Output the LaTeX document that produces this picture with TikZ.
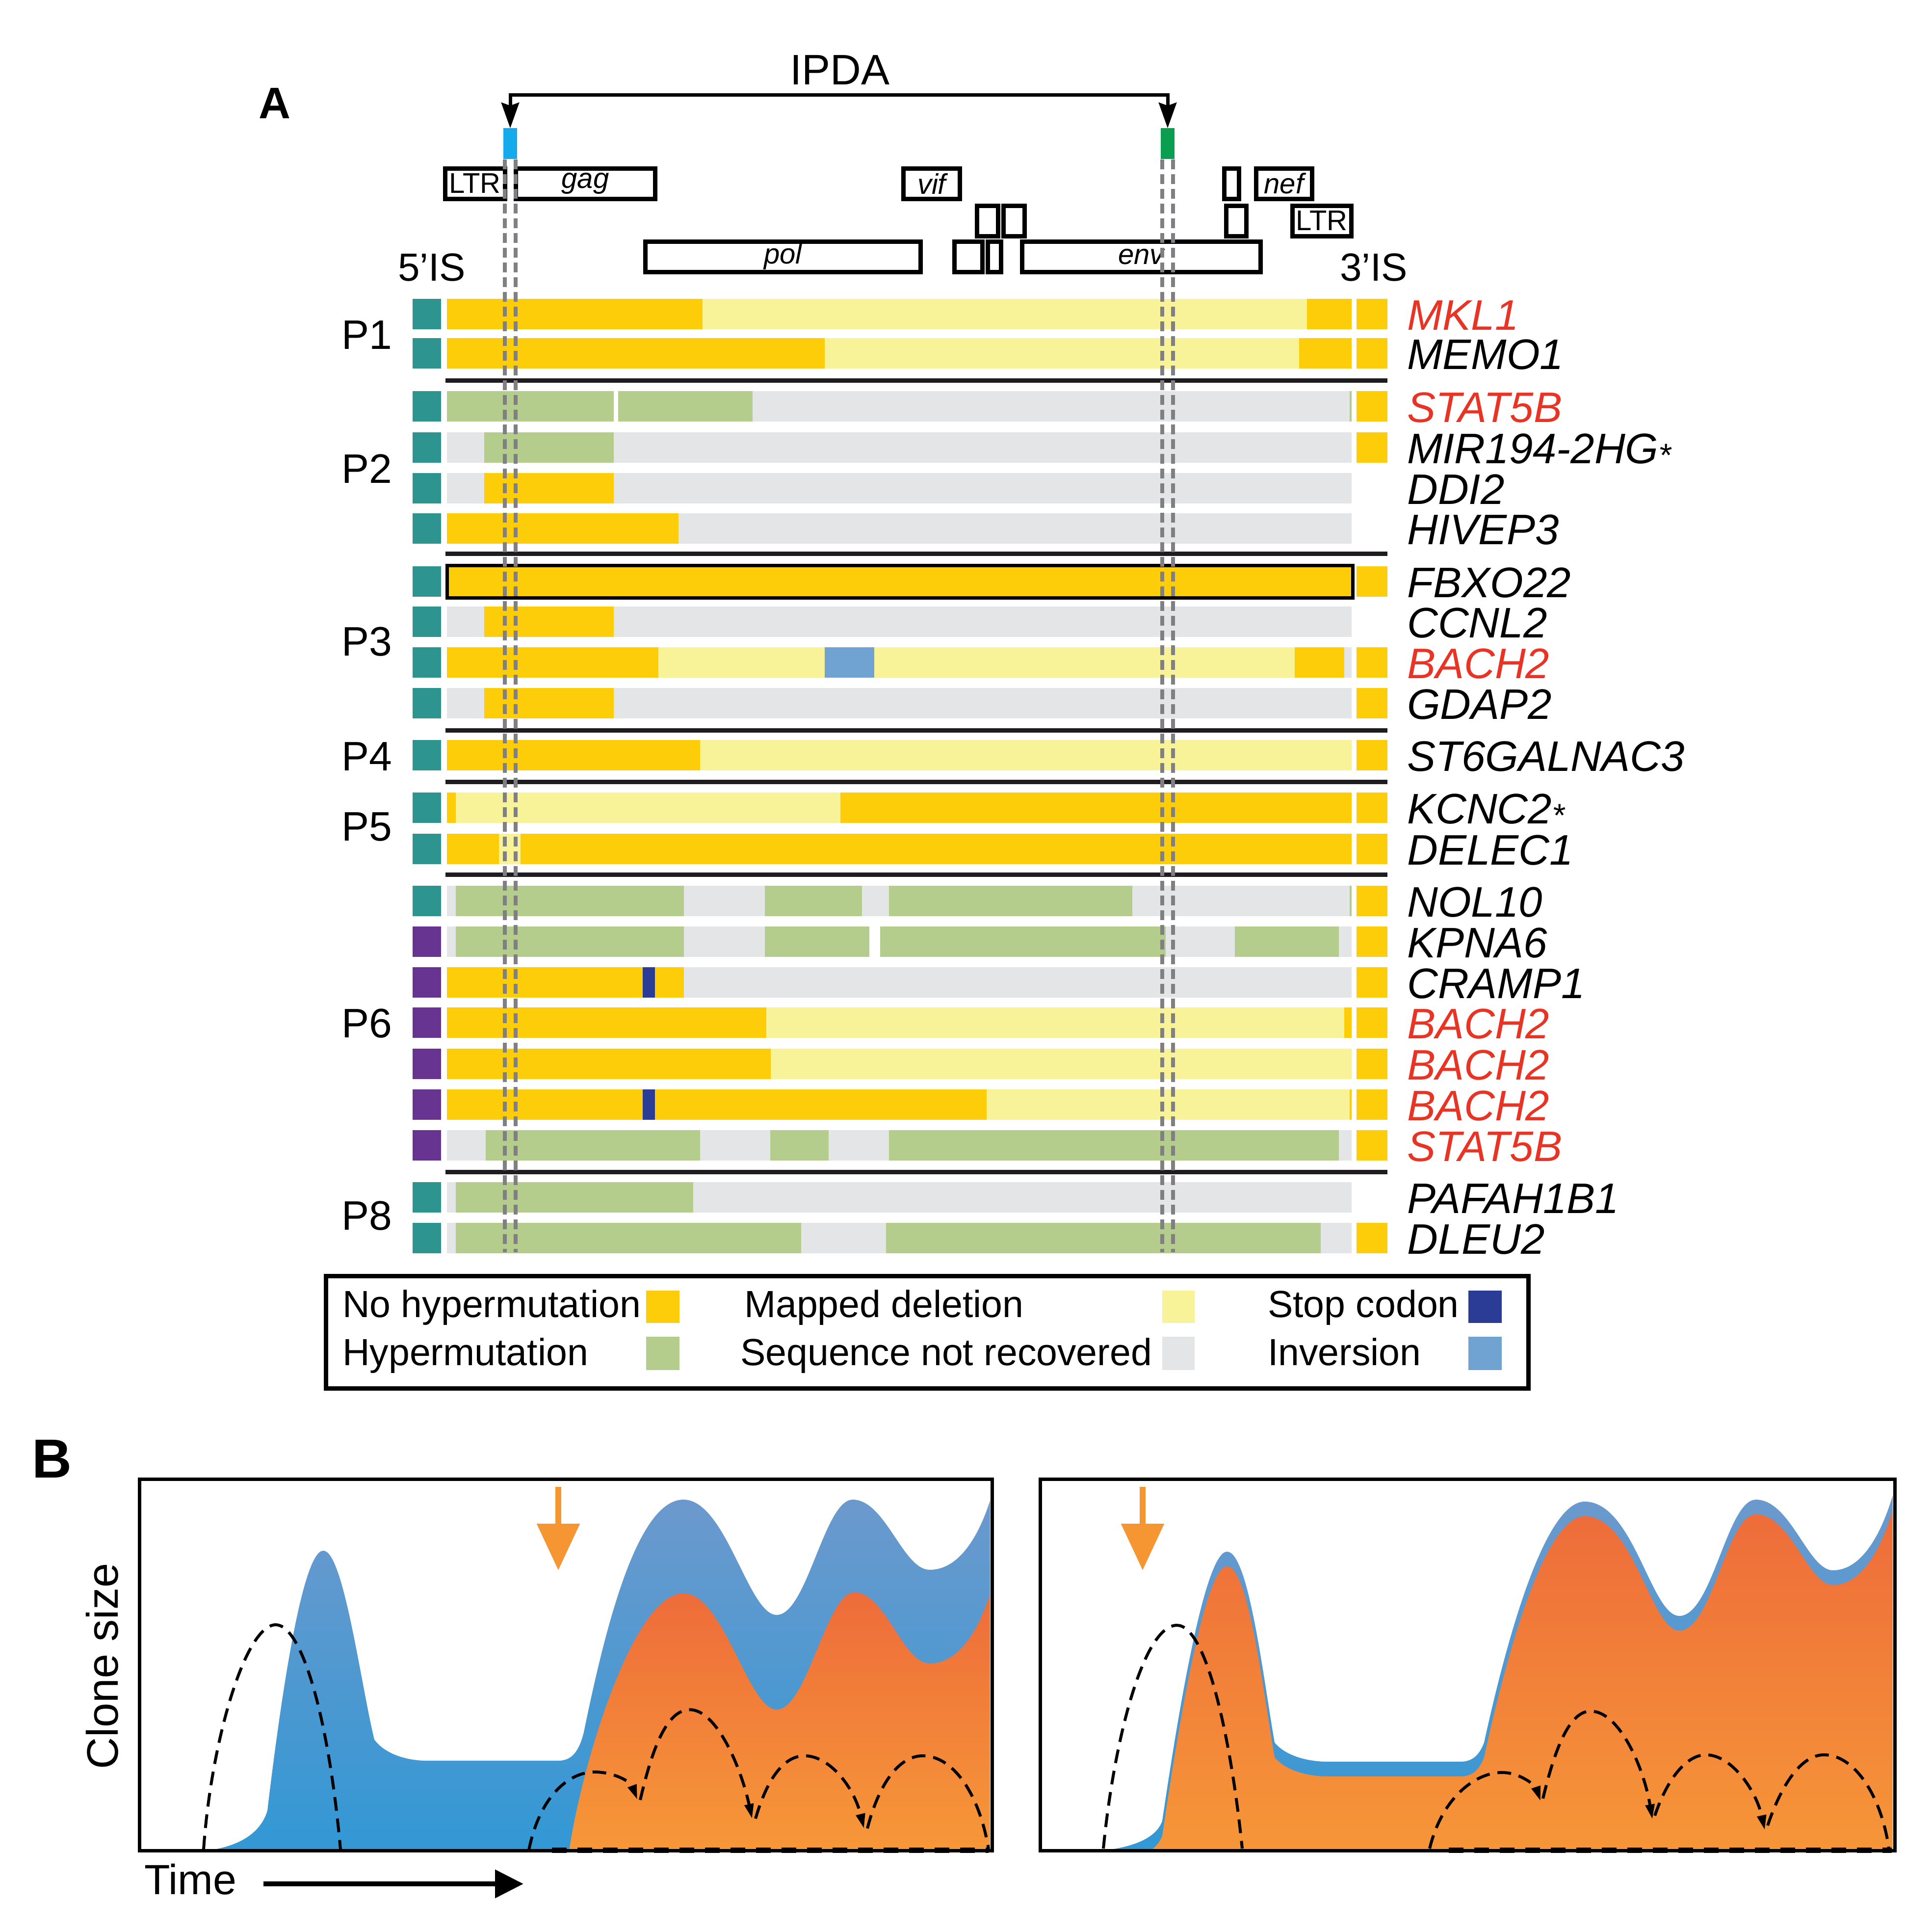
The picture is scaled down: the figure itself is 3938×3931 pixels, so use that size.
\documentclass[tikz,border=0pt]{standalone}
\usepackage{fontspec}
\setmainfont{Liberation Sans}
\usetikzlibrary{arrows.meta}
\definecolor{cY}{RGB}{253,205,10}
\definecolor{cL}{RGB}{248,242,152}
\definecolor{cG}{RGB}{180,204,140}
\definecolor{cR}{RGB}{228,229,231}
\definecolor{cB}{RGB}{112,162,210}
\definecolor{cS}{RGB}{42,60,150}
\definecolor{cTeal}{RGB}{46,148,144}
\definecolor{cPurp}{RGB}{104,52,146}
\definecolor{cRed}{RGB}{232,52,36}
\definecolor{cSep}{RGB}{30,28,30}
\definecolor{cDash}{RGB}{128,128,132}
\definecolor{cIpdaB}{RGB}{20,170,235}
\definecolor{cIpdaG}{RGB}{10,158,80}
\definecolor{cBlueTop}{RGB}{108,153,205}
\definecolor{cBlueBot}{RGB}{50,152,212}
\definecolor{cOrTop}{RGB}{238,108,58}
\definecolor{cOrBot}{RGB}{246,152,56}
\definecolor{cOArrow}{RGB}{246,150,50}
\newcommand\rowbar[2]{\foreach \xa/\xb/\xc in {#2}{\fill[fill=\xc] (\xa,#1-31) rectangle (\xb,#1+31);}}
\newcommand\generow[5]{%
  \fill[fill=#2] (841,#1-31) rectangle (899,#1+31);
  \node[gname, text=#3] (#5) at (2868,#1+32) {#4};}
\newcommand\lowstar{{\fontsize{66}{66}\selectfont\raisebox{-0.1em}[0pt][0pt]{*}}}
\tikzset{
  gbox/.style={draw=black, line width=9pt, inner sep=0pt, font=\fontsize{58}{62}\selectfont},
  gboxi/.style={gbox, font=\fontsize{58}{62}\selectfont\itshape},
  gname/.style={anchor=base west, inner sep=0pt, font=\fontsize{87}{90}\selectfont\itshape},
  plab/.style={inner sep=0pt, font=\fontsize{84}{90}\selectfont},
  sepline/.style={draw=cSep, line width=9pt},
  vdash/.style={draw=cDash, line width=8pt, dash pattern=on 20pt off 10pt},
  legtext/.style={anchor=base west, inner sep=0pt, font=\fontsize{77}{80}\selectfont},
  plotbox/.style={draw=black, line width=7pt, inner sep=0pt},
  dcurve/.style={draw=black, line width=6pt, dash pattern=on 28pt off 16pt},
  dtip/.style={dcurve, -{Triangle[length=30pt,width=18pt]}},
  oarrow/.style={draw=cOArrow, line width=12pt, -{Triangle[length=95pt,width=85pt]}},
}
\begin{document}
\begin{tikzpicture}[x=1pt,y=-1pt]
\useasboundingbox (0,0) rectangle (3938,3931);
% ---------- Panel A header ----------
\node[font=\fontsize{90}{96}\selectfont\bfseries, inner sep=0pt] (labA) at (560,211) {A};
\node[font=\fontsize{87}{92}\selectfont, inner sep=0pt] (ipda) at (1712,143) {IPDA};
\node[fill=cIpdaB, minimum width=28pt, minimum height=63pt, inner sep=0pt] (ipdaL) at (1040,293) {};
\node[fill=cIpdaG, minimum width=28pt, minimum height=63pt, inner sep=0pt] (ipdaR) at (2380,293) {};
\coordinate (bk) at (1700,194);
\draw[line width=7pt, line join=miter, {Stealth[length=52pt,width=36pt,inset=6pt]}-{Stealth[length=52pt,width=36pt,inset=6pt]}]
  (ipdaL.north) -- (ipdaL.north |- bk) -- (ipdaR.north |- bk) -- (ipdaR.north);
% gene structure boxes
\node[gbox, minimum width=122pt, minimum height=62pt] (ltrA) at (968,374) {LTR};
\node[gboxi, minimum width=284pt, minimum height=62pt] (gag) at (1193,374) {gag};
\node[gboxi, minimum width=115pt, minimum height=62pt] (vif) at (1899,374) {vif};
\node[gbox, minimum width=30pt, minimum height=62pt] (sm1) at (2510,374) {};
\node[gboxi, minimum width=114pt, minimum height=62pt] (nef) at (2617,374) {nef};
\node[gbox, minimum width=43pt, minimum height=62pt] (sm2) at (2013,450) {};
\node[gbox, minimum width=43pt, minimum height=62pt] (sm3) at (2067,450) {};
\node[gbox, minimum width=41pt, minimum height=62pt] (sm4) at (2520,450) {};
\node[gbox, minimum width=120pt, minimum height=62pt] (ltrB) at (2694,450) {LTR};
\node[gboxi, minimum width=561pt, minimum height=62pt] (pol) at (1596,523) {pol};
\node[gbox, minimum width=57pt, minimum height=62pt] (sm5) at (1974,523) {};
\node[gbox, minimum width=27pt, minimum height=62pt] (sm6) at (2027,523) {};
\node[gboxi, minimum width=486pt, minimum height=62pt] (env) at (2326,523) {env};
\node[font=\fontsize{80}{84}\selectfont, inner sep=0pt] (is5) at (880,545) {5’IS};
\node[font=\fontsize{80}{84}\selectfont, inner sep=0pt] (is3) at (2800,545) {3’IS};
% ---------- rows ----------
\rowbar{640}{911/1432/cY, 1432/2664/cL, 2664/2755/cY, 2765/2828/cY}
\generow{640}{cTeal}{cRed}{MKL1}{g1}
\rowbar{720}{911/1681/cY, 1681/2648/cL, 2648/2755/cY, 2765/2828/cY}
\generow{720}{cTeal}{black}{MEMO1}{g2}
\rowbar{828}{911/1251/cG, 1260/1534/cG, 1534/2751/cR, 2751/2755/cG, 2765/2828/cY}
\generow{828}{cTeal}{cRed}{STAT5B}{g3}
\rowbar{912}{911/987/cR, 987/1251/cG, 1251/2755/cR, 2765/2828/cY}
\generow{912}{cTeal}{black}{MIR194-2HG\lowstar}{g4}
\rowbar{995}{911/987/cR, 987/1251/cY, 1251/2755/cR}
\generow{995}{cTeal}{black}{DDI2}{g5}
\rowbar{1077}{911/1383/cY, 1383/2755/cR}
\generow{1077}{cTeal}{black}{HIVEP3}{g6}
\rowbar{1185}{911/2755/cY, 2765/2828/cY}
\generow{1185}{cTeal}{black}{FBXO22}{g7}
\rowbar{1267}{911/987/cR, 987/1251/cY, 1251/2755/cR}
\generow{1267}{cTeal}{black}{CCNL2}{g8}
\rowbar{1350}{911/1342/cY, 1342/1681/cL, 1681/1782/cB, 1782/2639/cL, 2639/2740/cY, 2740/2755/cR, 2765/2828/cY}
\generow{1350}{cTeal}{cRed}{BACH2}{g9}
\rowbar{1433}{911/987/cR, 987/1251/cY, 1251/2755/cR, 2765/2828/cY}
\generow{1433}{cTeal}{black}{GDAP2}{g10}
\rowbar{1539}{911/1427/cY, 1427/2755/cL, 2765/2828/cY}
\generow{1539}{cTeal}{black}{ST6GALNAC3}{g11}
\rowbar{1646}{911/929/cY, 929/1713/cL, 1713/2755/cY, 2765/2828/cY}
\generow{1646}{cTeal}{black}{KCNC2\lowstar}{g12}
\rowbar{1730}{911/1017/cY, 1017/1061/cL, 1061/2755/cY, 2765/2828/cY}
\generow{1730}{cTeal}{black}{DELEC1}{g13}
\rowbar{1836}{911/929/cR, 929/1394/cG, 1394/1559/cR, 1559/1757/cG, 1757/1812/cR, 1812/2308/cG, 2308/2751/cR, 2751/2755/cG, 2765/2828/cY}
\generow{1836}{cTeal}{black}{NOL10}{g14}
\rowbar{1919}{911/929/cR, 929/1394/cG, 1394/1559/cR, 1559/1772/cG, 1794/2376/cG, 2376/2517/cR, 2517/2729/cG, 2729/2755/cR, 2765/2828/cY}
\generow{1919}{cPurp}{black}{KPNA6}{g15}
\rowbar{2002}{911/1394/cY, 1310/1335/cS, 1394/2755/cR, 2765/2828/cY}
\generow{2002}{cPurp}{black}{CRAMP1}{g16}
\rowbar{2084}{911/1562/cY, 1562/2740/cL, 2740/2755/cY, 2765/2828/cY}
\generow{2084}{cPurp}{cRed}{BACH2}{g17}
\rowbar{2168}{911/1571/cY, 1571/2755/cL, 2765/2828/cY}
\generow{2168}{cPurp}{cRed}{BACH2}{g18}
\rowbar{2251}{911/2011/cY, 1310/1335/cS, 2011/2751/cL, 2751/2755/cY, 2765/2828/cY}
\generow{2251}{cPurp}{cRed}{BACH2}{g19}
\rowbar{2334}{911/990/cR, 990/1427/cG, 1427/1570/cR, 1570/1689/cG, 1689/1812/cR, 1812/2729/cG, 2729/2755/cR, 2765/2828/cY}
\generow{2334}{cPurp}{cRed}{STAT5B}{g20}
\rowbar{2440}{911/929/cR, 929/1413/cG, 1413/2755/cR}
\generow{2440}{cTeal}{black}{PAFAH1B1}{g21}
\rowbar{2523}{911/929/cR, 929/1633/cG, 1633/1806/cR, 1806/2692/cG, 2692/2755/cR, 2765/2828/cY}
\generow{2523}{cTeal}{black}{DLEU2}{g22}
\draw[line width=7pt] (911,1152) rectangle (2757,1218);
% separators
\foreach \yy in {775,1128,1488,1593,1782,2388}{\draw[sepline] (908,\yy) -- (2828,\yy);}
% dashed guide lines
\coordinate (vend) at (0,2552);
\draw[vdash] ([xshift=-11pt]ipdaL.south) -- ([xshift=-11pt]ipdaL.south |- vend);
\draw[vdash] ([xshift=11pt]ipdaL.south) -- ([xshift=11pt]ipdaL.south |- vend);
\draw[vdash] ([xshift=-11pt]ipdaR.south) -- ([xshift=-11pt]ipdaR.south |- vend);
\draw[vdash] ([xshift=11pt]ipdaR.south) -- ([xshift=11pt]ipdaR.south |- vend);
% patient labels
\node[plab] (p1) at (748,683) {P1};
\node[plab] (p2) at (748,955) {P2};
\node[plab] (p3) at (748,1308) {P3};
\node[plab] (p4) at (748,1542) {P4};
\node[plab] (p5) at (748,1685) {P5};
\node[plab] (p6) at (748,2086) {P6};
\node[plab] (p8) at (748,2478) {P8};
% legend
\node[draw=black, line width=9pt, minimum width=2451pt, minimum height=229pt, inner sep=0pt] (legend) at (1890,2715) {};
\node[legtext] (l1) at (698,2684) {No hypermutation};
\node[legtext] (l2) at (698,2782) {Hypermutation};
\node[legtext] (l3) at (1517,2684) {Mapped deletion};
\node[legtext] (l4) at (1509,2782) {Sequence not recovered};
\node[legtext] (l5) at (2584,2684) {Stop codon};
\node[legtext] (l6) at (2584,2782) {Inversion};
\fill[cY] (1317,2630) rectangle (1385,2696);
\fill[cG] (1317,2724) rectangle (1385,2792);
\fill[cL] (2369,2630) rectangle (2435,2696);
\fill[cR] (2369,2724) rectangle (2435,2792);
\fill[cS] (2993,2630) rectangle (3061,2696);
\fill[cB] (2993,2724) rectangle (3061,2792);
% ---------- Panel B ----------
\node[font=\fontsize{112}{118}\selectfont\bfseries, inner sep=0pt] (labB) at (106,2973) {B};
\node[font=\fontsize{90}{96}\selectfont, rotate=90, inner sep=0pt] (clone) at (208,3395) {Clone size};
\node[anchor=base west, font=\fontsize{86}{90}\selectfont, inner sep=0pt] (time) at (294,3860) {Time};
\coordinate (ts) at (537,3839);
\coordinate (te) at (1067,3839);
\draw[line width=10pt, -{Triangle[length=58pt,width=56pt]}] (ts) -- (te);
% left plot
\shade[top color=cBlueTop, bottom color=cBlueBot]
 (415,3772) .. controls (480,3765) and (530,3740) .. (545,3690)
 .. controls (570,3480) and (615,3160) .. (659,3160)
 .. controls (700,3160) and (735,3430) .. (763,3545)
 .. controls (785,3575) and (830,3588) .. (870,3588)
 -- (1138,3588)
 .. controls (1165,3588) and (1180,3570) .. (1190,3530)
 .. controls (1235,3310) and (1300,3056) .. (1393,3056)
 .. controls (1480,3056) and (1525,3291) .. (1583,3291)
 .. controls (1645,3291) and (1680,3056) .. (1738,3056)
 .. controls (1805,3056) and (1840,3199) .. (1895,3199)
 .. controls (1955,3199) and (1995,3130) .. (2018,3058)
 -- (2018,3772) -- cycle;
\shade[top color=cOrTop, bottom color=cOrBot]
 (1160,3772) .. controls (1185,3600) and (1290,3247) .. (1393,3247)
 .. controls (1475,3247) and (1525,3484) .. (1583,3484)
 .. controls (1645,3484) and (1685,3245) .. (1741,3245)
 .. controls (1805,3245) and (1840,3390) .. (1895,3390)
 .. controls (1955,3390) and (1995,3320) .. (2018,3249)
 -- (2018,3772) -- cycle;
\coordinate (oa1) at (1138,3030);
\coordinate (ob1) at (1138,3200);
\draw[oarrow] (oa1) -- (ob1);
\draw[dcurve] (415,3769) .. controls (430,3550) and (500,3311) .. (562,3311) .. controls (615,3311) and (670,3500) .. (694,3769);
\draw[dtip] (1078,3770) .. controls (1100,3660) and (1160,3611) .. (1212,3611) .. controls (1250,3611) and (1285,3630) .. (1299,3667);
\draw[dtip] (1305,3668) .. controls (1330,3560) and (1360,3484) .. (1406,3484) .. controls (1460,3484) and (1510,3600) .. (1533,3706);
\draw[dtip] (1540,3706) .. controls (1565,3620) and (1600,3578) .. (1640,3578) .. controls (1690,3578) and (1740,3640) .. (1761,3726);
\draw[dcurve] (1768,3726) .. controls (1790,3640) and (1830,3578) .. (1881,3578) .. controls (1940,3578) and (1995,3650) .. (2015,3768);
\draw[line width=11pt, dash pattern=on 30pt off 22pt] (1125,3770) -- (2015,3770);
\node[plotbox, minimum width=1738pt, minimum height=757pt] (plotL) at (1153,3393) {};
% right plot
\begin{scope}
\clip (2124,3019) rectangle (3858,3768);
\shade[top color=cBlueTop, bottom color=cBlueBot]
 (2240,3772) .. controls (2300,3766) and (2355,3750) .. (2369,3711)
 .. controls (2400,3500) and (2455,3162) .. (2501,3162)
 .. controls (2545,3162) and (2575,3420) .. (2598,3551)
 .. controls (2620,3578) and (2665,3590) .. (2706,3590) -- (2977,3590)
 .. controls (3000,3590) and (3015,3578) .. (3025,3551)
 .. controls (3080,3300) and (3155,3060) .. (3230,3060)
 .. controls (3330,3060) and (3365,3293) .. (3423,3293)
 .. controls (3490,3293) and (3520,3056) .. (3579,3056)
 .. controls (3650,3056) and (3685,3200) .. (3736,3200)
 .. controls (3795,3200) and (3835,3125) .. (3858,3047)
 -- (3858,3772) -- cycle;
\shade[top color=cOrTop, bottom color=cOrBot, shift={(0,30)}]
 (2240,3772) .. controls (2300,3766) and (2355,3750) .. (2369,3711)
 .. controls (2400,3500) and (2455,3162) .. (2501,3162)
 .. controls (2545,3162) and (2575,3420) .. (2598,3551)
 .. controls (2620,3578) and (2665,3590) .. (2706,3590) -- (2977,3590)
 .. controls (3000,3590) and (3015,3578) .. (3025,3551)
 .. controls (3080,3300) and (3155,3060) .. (3230,3060)
 .. controls (3330,3060) and (3365,3293) .. (3423,3293)
 .. controls (3490,3293) and (3520,3056) .. (3579,3056)
 .. controls (3650,3056) and (3685,3200) .. (3736,3200)
 .. controls (3795,3200) and (3835,3125) .. (3858,3047)
 -- (3858,3772) -- cycle;
\end{scope}
\coordinate (oa2) at (2329,3030);
\coordinate (ob2) at (2329,3200);
\draw[oarrow] (oa2) -- (ob2);
\draw[dcurve] (2249,3767) .. controls (2270,3550) and (2330,3312) .. (2399,3312) .. controls (2460,3312) and (2510,3550) .. (2532,3767);
\draw[dtip] (2914,3767) .. controls (2940,3660) and (3010,3612) .. (3061,3612) .. controls (3100,3612) and (3130,3640) .. (3140,3670);
\draw[dtip] (3145,3665) .. controls (3170,3560) and (3200,3487) .. (3242,3487) .. controls (3300,3487) and (3350,3600) .. (3368,3707);
\draw[dtip] (3373,3700) .. controls (3400,3620) and (3440,3576) .. (3477,3576) .. controls (3530,3576) and (3580,3650) .. (3597,3729);
\draw[dcurve] (3603,3720) .. controls (3630,3640) and (3670,3576) .. (3718,3576) .. controls (3780,3576) and (3835,3660) .. (3850,3767);
\draw[line width=11pt, dash pattern=on 30pt off 22pt] (2953,3770) -- (3856,3770);
\node[plotbox, minimum width=1742pt, minimum height=757pt] (plotR) at (2991,3393) {};
\end{tikzpicture}
\end{document}
